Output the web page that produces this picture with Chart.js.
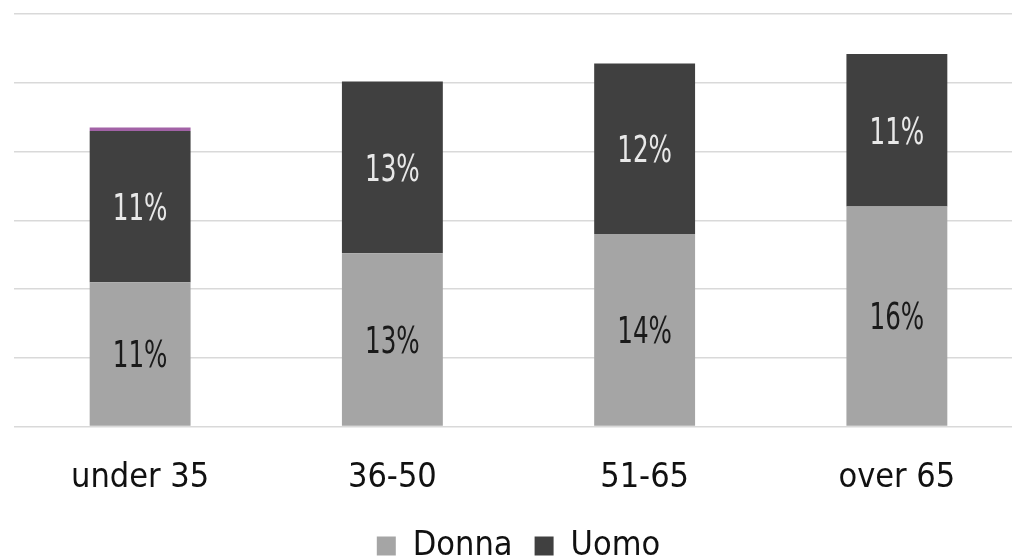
<!DOCTYPE html>
<html>
<head>
<meta charset="utf-8">
<script src="https://cdn.jsdelivr.net/npm/chart.js@4.4.1/dist/chart.umd.min.js"></script>
<style>
  html, body { margin: 0; padding: 0; background: #fff; overflow: hidden; width: 1012px; height: 559px; }
  #wrap { position: absolute; left: 0; top: 0; width: 1046px; height: 580px; }
</style>
</head>
<body>
<div id="wrap"><canvas id="chart"></canvas></div>
<script>
// Age groups on the x axis
const categories = ['under 35', '36-50', '51-65', 'over 65'];
// Shares (%) per group
const donna = [10.5, 12.6, 14.0, 16.0];
const uomo = [11.0, 12.5, 12.4, 11.1];
const altro = [0.25, 0, 0, 0];
// Value axis (labels hidden, gridlines only)
const yMin = 0, yMax = 30, yStep = 5;

const FONT = "'DejaVu Sans Condensed', 'Liberation Sans Narrow', Roboto, sans-serif";

// Writes the rounded share in the middle of each segment
const segmentLabels = {
  id: 'segmentLabels',
  afterDatasetsDraw(chart, args, opts) {
    const ctx = chart.ctx;
    chart.data.datasets.forEach((ds, di) => {
      const color = opts.colors[di];
      if (!color) return;
      const meta = chart.getDatasetMeta(di);
      meta.data.forEach((bar, i) => {
        const v = ds.data[i];
        const cy = (bar.y + bar.base) / 2;
        ctx.save();
        ctx.font = opts.size + 'px ' + FONT;
        ctx.fillStyle = color;
        ctx.textAlign = 'center';
        ctx.textBaseline = 'alphabetic';
        ctx.translate(bar.x, cy + opts.capHalf);
        ctx.scale(opts.squeeze, 1);
        ctx.fillText(Math.round(v) + '%', 0, 0);
        ctx.restore();
      });
    });
  }
};

new Chart(document.getElementById('chart'), {
  type: 'bar',
  data: {
    labels: categories,
    datasets: [
      { label: 'Donna', data: donna, backgroundColor: '#A5A5A5' },
      { label: 'Uomo', data: uomo, backgroundColor: '#404040' },
      { label: 'Altro', data: altro, backgroundColor: '#A262A6' }
    ]
  },
  options: {
    responsive: true,
    maintainAspectRatio: false,
    animation: false,
    layout: { padding: { left: 14, right: 23, top: 14, bottom: 7 } },
    datasets: { bar: { barPercentage: 0.4, categoryPercentage: 1.0 } },
    scales: {
      x: {
        stacked: true,
        grid: { display: false, drawTicks: true, tickLength: 23 },
        border: { display: false },
        ticks: { color: '#111', padding: 18, font: { size: 34, family: FONT, lineHeight: 0.63 } }
      },
      y: {
        stacked: true,
        min: yMin, max: yMax,
        ticks: { display: false, stepSize: yStep },
        grid: { color: '#D9D9D9', lineWidth: 1.5, drawTicks: false },
        border: { display: false }
      }
    },
    plugins: {
      legend: {
        position: 'bottom',
        labels: {
          boxWidth: 19, boxHeight: 19, padding: 22, color: '#111',
          font: { size: 34, family: FONT },
          filter: (item) => item.datasetIndex !== 2
        }
      },
      tooltip: { enabled: false },
      segmentLabels: { colors: ['#1a1a1a', '#E8E8E8'], size: 37, capHalf: 13.3, squeeze: 0.74 }
    }
  },
  plugins: [segmentLabels]
});
</script>
</body>
</html>
